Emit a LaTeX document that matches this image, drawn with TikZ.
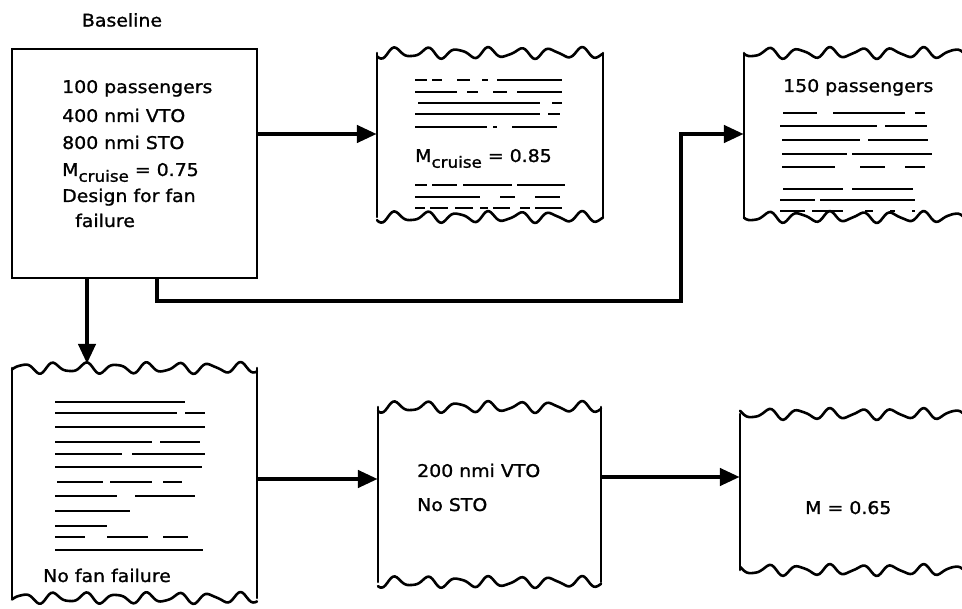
\documentclass[tikz,border=0pt]{standalone}
\usepackage{fontspec}
\setmainfont{DejaVu Sans}[FakeStretch=1.08,FakeBold=1.2]
\usetikzlibrary{arrows.meta}

\newcommand{\lbl}{\fontsize{17.5}{20}\selectfont}
\newcommand{\Mcr}{M\raisebox{-0.6ex}{\fontsize{15.5}{15}\selectfont cruise}}

\tikzset{
  card/.style={draw,line width=2.6pt,inner sep=0pt},
  sheet/.style={inner sep=0pt},
  edge/.style={line width=2.6pt,line cap=round,line join=round},
  flow/.style={line width=4.5pt,-{Triangle[length=20pt,width=17pt]}},
  scrib/.style={line width=2pt},
  txt/.style={anchor=base west,font=\lbl,inner sep=0pt},
}

% torn edge from x=#1 to x=#2 at height #3
\newcommand{\tornedge}[3]{%
  \draw[edge] plot[smooth,domain=#1:#2,samples=120,variable=\t]
    (\t,{#3+4.5*sin(11.6*\t)+1.5*sin(19*mod(\t,190)+30)});}

% sheet #1 with corners (#2,#3) and (#4,#5): straight sides, torn top and bottom
\newcommand{\sheet}[5]{%
  \node[sheet,minimum width={#4-#2},minimum height={#5-#3}] (#1) at ({(#2+#4)/2},{(#3+#5)/2}) {};
  \draw[edge] (#2,#3) -- (#2,#5);
  \draw[edge] (#4,#3) -- (#4,#5);
  \tornedge{#2}{#4}{#3}
  \tornedge{#2}{#4}{#5}}

\begin{document}
\begin{tikzpicture}[x=1pt,y=-1pt]

\clip (0,0) rectangle (962,609);

%% boxes
\node[card,minimum width=245pt,minimum height=229pt] (base) at (134.5,163.5) {};
\sheet{cruise}{377}{53}{603}{217}
\sheet{pax}{744}{53}{1010}{217}
\sheet{nofan}{12}{368}{257}{598}
\sheet{short}{378}{407}{601}{582}
\sheet{mach}{740}{414}{1010}{570}

%% texts
\node[font=\lbl,inner sep=0pt] (title) at (122,20) {Baseline};

\node[txt] (b1) at (62,93) {100 passengers};
\node[txt] (b2) at (62,122) {400 nmi VTO};
\node[txt] (b3) at (62,149) {800 nmi STO};
\node[txt] (b4) at (62,176) {\Mcr\ = 0.75};
\node[txt] (b5) at (62,202) {Design for fan};
\node[txt] (b6) at (75,227) {failure};

\node[txt] (c1) at (415,162) {\Mcr\ = 0.85};
\node[txt] (p1) at (783,92) {150 passengers};
\node[txt] (n1) at (43,582) {No fan failure};
\node[txt] (s1) at (417,477) {200 nmi VTO};
\node[txt] (s2) at (417,511) {No STO};
\node[txt] (m1) at (805,514) {M = 0.65};

%% scribbled lines standing for text
\foreach \y/\segs in {80/{415/427,432/442,457/470,482/488,497/562},
                      92/{415/457,467/478,493/507,517/562},
                      103/{418/540,552/562},
                      114/{415/540,548/560},
                      127/{415/487,493/497,512/557},
                      185/{415/427,432/457,463/512,517/565},
                      197/{415/480,500/515,535/560},
                      208/{415/425,430/448,455/473,480/488,493/510,520/530,535/562}}
  \foreach \a/\b in \segs {\draw[scrib] (\a,\y) -- (\b,\y);}

\foreach \y/\segs in {113/{783/817,833/905,915/925},
                      126/{780/877,885/927},
                      140/{782/860,868/928},
                      154/{782/847,852/932},
                      167/{782/835,860/885,905/925},
                      189/{783/843,852/913},
                      200/{780/815,820/915},
                      211/{780/805,812/843,865/873,890/895,912/915}}
  \foreach \a/\b in \segs {\draw[scrib] (\a,\y) -- (\b,\y);}

\foreach \y/\segs in {402/{55/185},
                      413/{55/177,185/205},
                      427/{55/205},
                      442/{55/152,160/200},
                      454/{55/122,132/205},
                      467/{55/202},
                      482/{57/103,110/152,163/182},
                      496/{55/117,135/195},
                      511/{55/130},
                      526/{55/107},
                      537/{55/85,107/148,163/188},
                      550/{55/203}}
  \foreach \a/\b in \segs {\draw[scrib] (\a,\y) -- (\b,\y);}

%% arrows
\coordinate (down) at (87,0);
\coordinate (leg) at (157,0);
\coordinate (elbow) at (681,301);
\coordinate (row0) at (0,134);
\coordinate (row1) at (0,479);
\coordinate (row2) at (0,477);

\draw[flow] (base.east |- row0) -- (cruise.west |- row0);
\draw[flow] (base.south -| leg) |- (elbow) |- (pax.west |- row0);
\draw[flow] (base.south -| down) -- ([yshift=4pt]nofan.north -| down);
\draw[flow] (nofan.east |- row1) -- (short.west |- row1);
\draw[flow] (short.east |- row2) -- (mach.west |- row2);

\end{tikzpicture}
\end{document}
